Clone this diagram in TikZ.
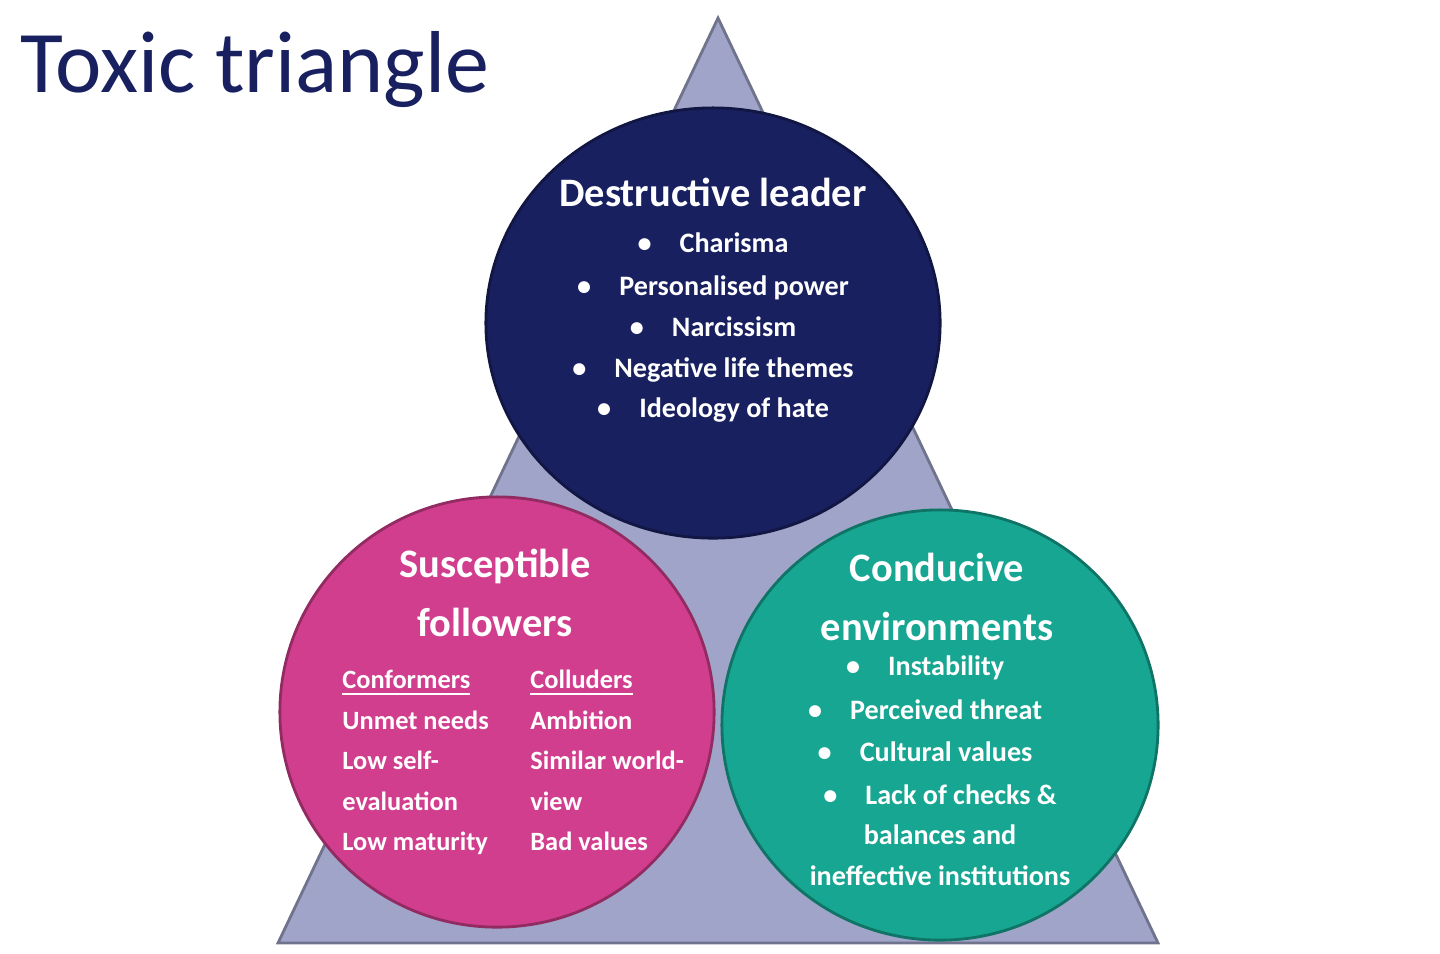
\documentclass[tikz,border=0pt]{standalone}
\usepackage{fontspec}
\setmainfont{Carlito}
\usetikzlibrary{shapes.geometric}
\definecolor{tri}{RGB}{160,164,200}
\definecolor{navy}{RGB}{24,32,96}
\definecolor{pinkc}{RGB}{210,62,142}
\definecolor{teal}{RGB}{22,166,146}
\begin{document}
\begin{tikzpicture}[x=0.01cm,y=-0.01cm,
  circ/.style={ellipse,draw=#1!70!black,line width=0.8pt,fill=#1},
  txt/.style={text=white,font=\bfseries\fontsize{8}{10}\selectfont,align=center},
  head/.style={text=white,font=\bfseries\fontsize{11.5}{17}\selectfont,align=center}]
\useasboundingbox (0,0) rectangle (1440,953);
\node[font=\fontsize{25}{30}\selectfont,text=navy,anchor=west] (title) at (8,70) {Toxic triangle};
\coordinate (a) at (718,18); \coordinate (b) at (278,943); \coordinate (c) at (1158,943);
\draw[fill=tri,draw=tri!70!black,line width=0.8pt] (a) -- (b) -- (c) -- cycle;
\path (713,323) node[circ=navy,minimum width=4.54cm,minimum height=4.3cm] (L) {};
\path (497,712) node[circ=pinkc,minimum width=4.34cm,minimum height=4.3cm] (F) {};
\path (940,725) node[circ=teal,minimum width=4.36cm,minimum height=4.3cm] (E) {};
\node[head] (lh) at (713,192) {Destructive leader};
\node[txt] (l1) at (713,243) {\textbullet\quad Charisma};
\node[txt] (l2) at (713,288) {\textbullet\quad Personalised power};
\node[txt] (l3) at (713,327) {\textbullet\quad Narcissism};
\node[txt] (l4) at (713,370) {\textbullet\quad Negative life themes};
\node[txt] (l5) at (713,410) {\textbullet\quad Ideology of hate};
\node[head] (fh) at (495,593) {Susceptible\\followers};
\node[txt,anchor=north west,align=left,font=\bfseries\fontsize{7.5}{11.5}\selectfont] (fc) at (330,658) {\underline{Conformers}\\Unmet needs\\Low self-\\evaluation\\Low maturity};
\node[txt,anchor=north west,align=left,font=\bfseries\fontsize{7.5}{11.5}\selectfont] (fo) at (518,658) {\underline{Colluders}\\Ambition\\Similar world-\\view\\Bad values};
\node[head] (eh) at (937,597) {Conducive\\environments};
\node[txt] (e1) at (925,668) {\textbullet\quad Instability};
\node[txt] (e2) at (925,710) {\textbullet\quad Perceived threat};
\node[txt] (e3) at (925,752) {\textbullet\quad Cultural values};
\node[txt,font=\bfseries\fontsize{8}{11.5}\selectfont] (e4) at (940,835) {\textbullet\quad Lack of checks \&\\balances and\\ineffective institutions};
\end{tikzpicture}
\end{document}
